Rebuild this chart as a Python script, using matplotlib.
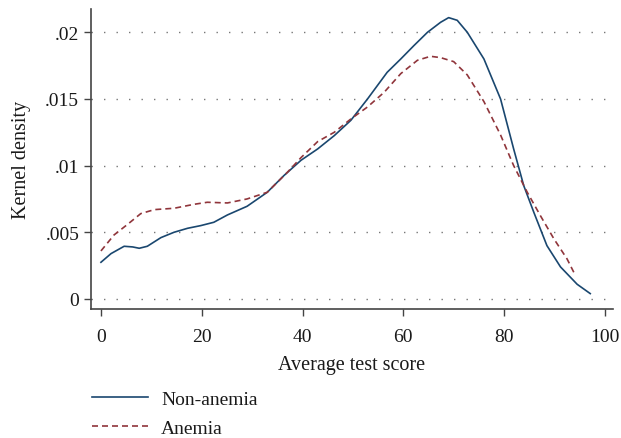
import matplotlib.pyplot as plt

plt.rcParams['font.family'] = ['Liberation Serif', 'DejaVu Serif']

# values
nonanemia_x = [0, 2, 4.6, 6.3, 7.6, 9.2, 11.9, 14.5, 17.2, 19.8, 22.4, 25.1, 29, 33,
               36.3, 39.7, 43, 46.3, 49.6, 52.9, 56.8, 59.5, 62.1, 64.8, 67.4, 69,
               70.7, 72.7, 76, 79.3, 81.9, 83.9, 85.9, 88.5, 91.2, 94.5, 97.1]
nonanemia_y = [0.00275, 0.0034, 0.00395, 0.0039, 0.0038, 0.00395, 0.0046, 0.005,
               0.0053, 0.0055, 0.00575, 0.0063, 0.00695, 0.008, 0.00925, 0.0104,
               0.01125, 0.01225, 0.0134, 0.015, 0.017, 0.018, 0.019, 0.02, 0.02075,
               0.0211, 0.0209, 0.02, 0.018, 0.015, 0.01125, 0.0085, 0.0065, 0.004,
               0.0024, 0.0011, 0.0004]

anemia_x = [0, 2.6, 5.3, 7.9, 10.6, 14.5, 18.5, 21.1, 25.1, 29, 33, 37, 39.7, 43,
            46.3, 49.6, 52.9, 56.2, 59.5, 62.8, 65.4, 67.4, 70, 72.7, 76, 79.3,
            81.9, 84.6, 87.2, 89.9, 92.5, 94.1]
anemia_y = [0.0036, 0.0048, 0.0056, 0.0064, 0.0067, 0.0068, 0.0071, 0.00725, 0.0072,
            0.0075, 0.008, 0.0095, 0.0106, 0.0118, 0.0125, 0.0135, 0.0144, 0.0155,
            0.0169, 0.0179, 0.0182, 0.0181, 0.0178, 0.0168, 0.0148, 0.0123, 0.01,
            0.008, 0.00625, 0.0045, 0.003, 0.0018]

xticks = [0, 20, 40, 60, 80, 100]
yticks = [0, 0.005, 0.01, 0.015, 0.02]
ytick_labels = ['0', '.005', '.01', '.015', '.02']

fig = plt.figure(figsize=(6.21, 4.39), dpi=100)
ax = fig.add_axes([0.1465, 0.294, 0.987 - 0.1465, 0.977 - 0.294])

for y in yticks:
    ax.axhline(y, color='#777777', lw=1.0, linestyle=(0, (1, 8)), zorder=0)

ax.plot(nonanemia_x, nonanemia_y, color='#1a476f', lw=1.2, label='Non-anemia')
ax.plot(anemia_x, anemia_y, color='#90353b', lw=1.2, dashes=(3.6, 2.4), label='Anemia')

ax.set_xlim(-1.98, 101.6)
ax.set_ylim(-0.00075, 0.02174)
ax.set_xticks(xticks)
ax.set_yticks(yticks)
ax.set_yticklabels(ytick_labels)
ax.tick_params(direction='out', length=5, width=1.0, color='#444444',
               labelsize=14, labelcolor='#1a1a1a')
ax.tick_params(axis='x', pad=9)

for s in ['top', 'right']:
    ax.spines[s].set_visible(False)
for s in ['left', 'bottom']:
    ax.spines[s].set_color('#444444')
    ax.spines[s].set_linewidth(1.2)

ax.set_xlabel('Average test score', fontsize=14.5, color='#1a1a1a', labelpad=7)
ax.set_ylabel('Kernel density', fontsize=14.5, color='#1a1a1a', labelpad=10)

fig.legend(loc='upper left', bbox_to_anchor=(0.148, 0.108), frameon=False,
           fontsize=14, handlelength=2.88, handletextpad=0.67, labelspacing=0.58,
           borderpad=0, borderaxespad=0, labelcolor='#1a1a1a')

fig.savefig('out.png', dpi=100)
